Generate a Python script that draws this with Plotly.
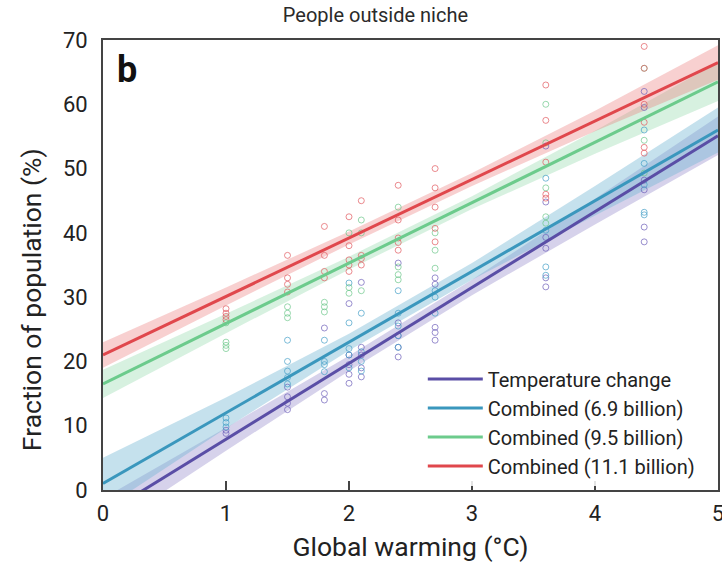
import plotly.graph_objects as go

# ---- data ----
fit_x = [0, 1, 2, 3, 4, 5]

temp_fit = [-3.9, 7.9, 19.7, 31.5, 43.3, 55.1]
temp_hw = [2.6, 1.8, 1.2, 1.2, 2.0, 3.0]
temp_px = [1, 1, 1.5, 1.5, 1.5, 1.5, 1.8, 1.8, 1.8, 2.0, 2.0, 2.0, 2.0, 2.0,
           2.1, 2.1, 2.1, 2.1, 2.1, 2.4, 2.4, 2.4, 2.4, 2.4, 2.7, 2.7, 2.7, 2.7, 2.7,
           3.6, 3.6, 3.6, 3.6, 3.6, 3.6, 4.4, 4.4, 4.4, 4.4, 4.4, 4.4]
temp_py = [8.8, 9.3, 12.5, 13.5, 14.5, 16, 14, 15, 25.2, 16.6, 18, 19.5, 21, 29,
           17.6, 19, 21, 22.2, 32.3, 20.7, 22.2, 24, 26, 35.3, 23.3, 24.5, 25.3, 32, 33,
           31.6, 33, 37.6, 39.3, 44.8, 53.5, 38.6, 40.9, 46.7, 48.2, 59.5, 62]

c69_fit = [1.0, 12.0, 23.0, 34.0, 45.0, 56.0]
c69_hw = [4.0, 2.4, 1.3, 1.3, 2.3, 3.5]
c69_px = [1, 1, 1, 1.5, 1.5, 1.5, 1.5, 1.5, 1.8, 1.8, 1.8, 1.8, 2.0, 2.0, 2.0, 2.0, 2.0,
          2.1, 2.1, 2.1, 2.1, 2.4, 2.4, 2.4, 2.4, 2.4, 2.7, 2.7, 2.7,
          3.6, 3.6, 3.6, 3.6, 4.4, 4.4, 4.4, 4.4, 4.4]
c69_py = [9.8, 10.5, 11.2, 16.5, 17.5, 18.5, 20, 23.3, 18.4, 19.5, 20, 23.3, 19, 21, 22, 26, 32.2,
          18.5, 20, 21.5, 27.5, 22.2, 24, 25.5, 27.5, 31, 27.5, 30, 31,
          33.4, 34.7, 40.4, 48.5, 42.8, 43.2, 47.5, 50.8, 56]

c95_fit = [16.5, 25.9, 35.3, 44.7, 54.1, 63.5]
c95_hw = [2.2, 1.5, 1.0, 1.0, 1.8, 3.0]
c95_px = [1, 1, 1, 1, 1.5, 1.5, 1.5, 1.8, 1.8, 1.8, 2.0, 2.0, 2.0, 2.1, 2.1, 2.1,
          2.4, 2.4, 2.4, 2.4, 2.7, 2.7, 2.7, 3.6, 3.6, 3.6, 3.6, 3.6, 4.4, 4.4, 4.4]
c95_py = [22, 22.5, 23, 26, 26.8, 27.5, 28.5, 27.7, 28.5, 29.2, 30.6, 31.5, 40, 31, 40, 42,
          32.7, 33.5, 34.7, 44, 34.5, 37.3, 40, 41.5, 42.5, 47, 54, 60, 49.3, 54.4, 65.6]

c111_fit = [21.0, 30.1, 39.2, 48.3, 57.4, 66.5]
c111_hw = [2.0, 1.4, 1.0, 1.0, 1.6, 2.7]
c111_px = [1, 1, 1, 1, 1.5, 1.5, 1.5, 1.5, 1.8, 1.8, 1.8, 1.8, 2.0, 2.0, 2.0, 2.0, 2.0,
           2.1, 2.1, 2.1, 2.1, 2.4, 2.4, 2.4, 2.4, 2.4, 2.7, 2.7, 2.7, 2.7, 2.7,
           3.6, 3.6, 3.6, 3.6, 3.6, 4.4, 4.4, 4.4, 4.4, 4.4, 4.4]
c111_py = [26.5, 27, 27.5, 28.2, 30.8, 32, 33, 36.5, 33, 34, 36.5, 41, 34, 35, 35.8, 38, 42.5,
           35, 36, 36.5, 45, 37.3, 38.5, 39.2, 42, 47.4, 38.6, 40.7, 44, 47, 50,
           45.4, 46, 51, 57.5, 63, 52.4, 53.3, 57.2, 60, 65.6, 69]

series = [
    ("Temperature change", temp_fit, temp_hw, temp_px, temp_py, "#5a4ea6", "rgba(120,105,190,0.30)", "rgba(110,95,185,0.7)"),
    ("Combined (6.9 billion)", c69_fit, c69_hw, c69_px, c69_py, "#3a97bd", "rgba(110,180,210,0.40)", "rgba(70,160,200,0.7)"),
    ("Combined (9.5 billion)", c95_fit, c95_hw, c95_px, c95_py, "#6ccb8c", "rgba(140,215,165,0.35)", "rgba(110,200,140,0.7)"),
    ("Combined (11.1 billion)", c111_fit, c111_hw, c111_px, c111_py, "#e0474c", "rgba(235,120,120,0.35)", "rgba(225,90,95,0.7)"),
]

fig = go.Figure()

# bands
for name, fit, hw, px, py, lc, bc, mc in series:
    upper = [f + h for f, h in zip(fit, hw)]
    lower = [f - h for f, h in zip(fit, hw)]
    fig.add_trace(go.Scatter(
        x=fit_x + fit_x[::-1], y=upper + lower[::-1], fill="toself",
        fillcolor=bc, line=dict(width=0), mode="lines",
        showlegend=False, hoverinfo="skip"))

# points
for name, fit, hw, px, py, lc, bc, mc in series:
    fig.add_trace(go.Scatter(
        x=px, y=py, mode="markers",
        marker=dict(symbol="circle-open", size=6, color=mc, line=dict(width=1)),
        showlegend=False))

# lines
for name, fit, hw, px, py, lc, bc, mc in series:
    fig.add_trace(go.Scatter(
        x=fit_x, y=fit, mode="lines", name=name,
        line=dict(color=lc, width=3)))

font_fam = "Roboto, Arial, sans-serif"
fig.update_layout(
    width=722, height=567,
    margin=dict(l=103, r=4, t=40, b=77),
    paper_bgcolor="white", plot_bgcolor="white",
    font=dict(family=font_fam, size=20, color="#222222"),
    title=dict(text="People outside niche", x=0.52, xanchor="center", y=0.973, yanchor="middle",
               font=dict(size=20, color="#2a2a2a")),
    xaxis=dict(range=[0, 5], tickvals=[0, 1, 2, 3, 4, 5], ticks="inside", ticklen=9,
               tickcolor="#444", tickwidth=1.8, showgrid=False, zeroline=False,
               showline=True, linecolor="#444", linewidth=1.8, mirror=True,
               automargin=False, ticklabelstandoff=3, ticklabeloverflow="allow",
               title=dict(text="Global warming (°C)", font=dict(size=26.5), standoff=12),
               tickfont=dict(size=22)),
    yaxis=dict(range=[0, 70], tickvals=[0, 10, 20, 30, 40, 50, 60, 70], ticks="",
               showgrid=False, zeroline=False,
               showline=True, linecolor="#444", linewidth=1.8, mirror=True,
               automargin=False, ticklabelstandoff=9, ticklabeloverflow="allow",
               tickfont=dict(size=22)),
    legend=dict(x=0.52, y=0.29, xanchor="left", yanchor="top",
                bgcolor="rgba(255,255,255,0.85)", font=dict(size=20, color="#222"),
                tracegroupgap=0, itemwidth=55),
    annotations=[
        dict(text="<b>b</b>", x=0.02, y=0.985, xref="paper", yref="paper",
             xanchor="left", yanchor="top", showarrow=False,
             font=dict(size=36, color="#111")),
        dict(text="Fraction of population (%)", x=-0.117, y=0.422, xref="paper", yref="paper",
             xanchor="center", yanchor="middle", textangle=-90, showarrow=False,
             font=dict(size=26.5, color="#222")),
    ],
)

fig.write_html("out.html")
